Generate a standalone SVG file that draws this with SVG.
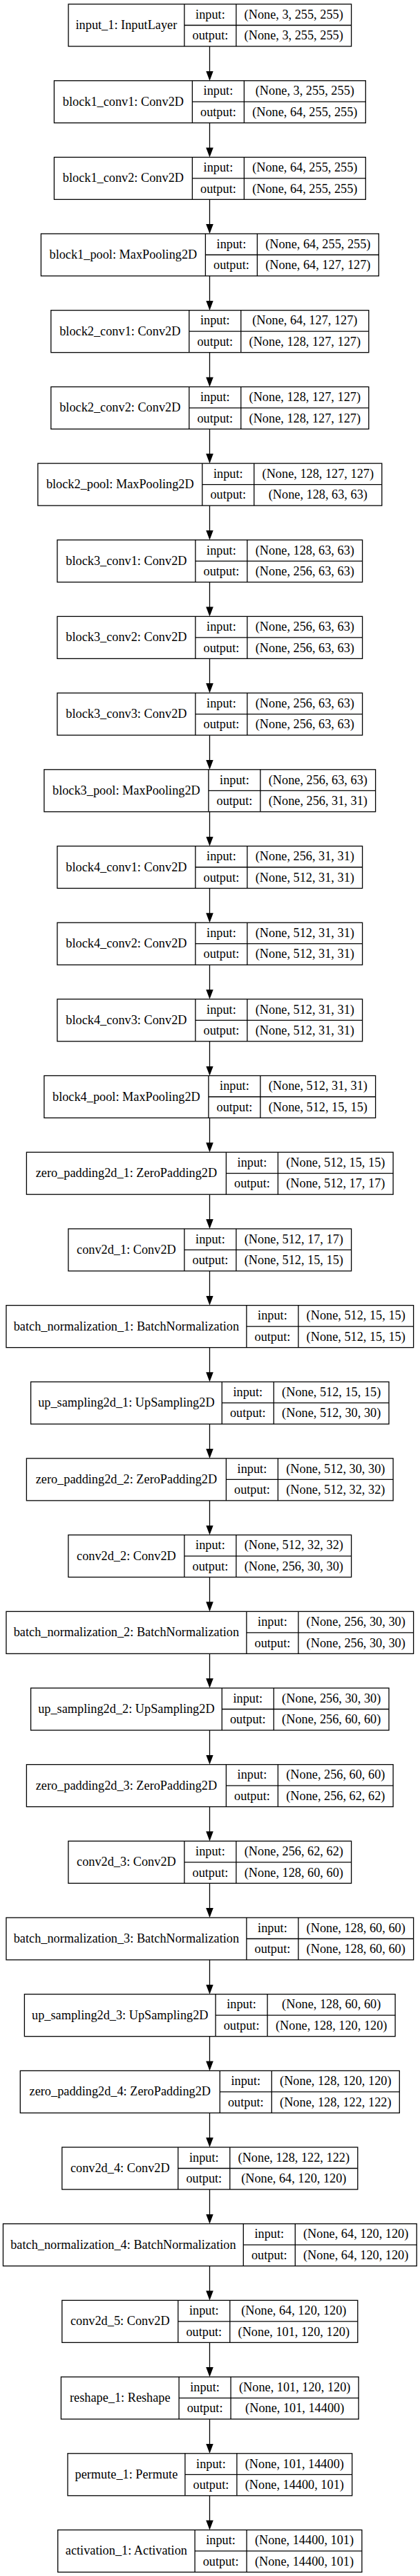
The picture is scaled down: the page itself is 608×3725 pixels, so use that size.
<svg xmlns="http://www.w3.org/2000/svg" width="608" height="3725" viewBox="0 0 608 3725">
<style>
.n rect{fill:#fff;stroke:#000;stroke-width:1.3}
.n path{fill:none;stroke:#000;stroke-width:1.3}
text{font-family:"Liberation Serif","Times New Roman",serif;font-size:18.3px;fill:#000;text-anchor:middle}
.e line{stroke:#000;stroke-width:1.3}
</style>
<defs>
<marker id="ah" viewBox="0 0 14 10.6" refX="1" refY="5.3" markerWidth="14" markerHeight="10.6" markerUnits="userSpaceOnUse" orient="auto"><path d="M0,0L14,5.3L0,10.6z" fill="#000"/></marker>
</defs>
<rect width="608" height="3725" fill="#fff"/>
<g class="e">
<line x1="303.5" y1="67" x2="303.5" y2="103.7" marker-end="url(#ah)"/>
<line x1="303.5" y1="177.7" x2="303.5" y2="214.4" marker-end="url(#ah)"/>
<line x1="303.5" y1="288.4" x2="303.5" y2="325" marker-end="url(#ah)"/>
<line x1="303.5" y1="399" x2="303.5" y2="435.7" marker-end="url(#ah)"/>
<line x1="303.5" y1="509.7" x2="303.5" y2="546.4" marker-end="url(#ah)"/>
<line x1="303.5" y1="620.4" x2="303.5" y2="657.1" marker-end="url(#ah)"/>
<line x1="303.5" y1="731.1" x2="303.5" y2="767.8" marker-end="url(#ah)"/>
<line x1="303.5" y1="841.8" x2="303.5" y2="878.4" marker-end="url(#ah)"/>
<line x1="303.5" y1="952.4" x2="303.5" y2="989.1" marker-end="url(#ah)"/>
<line x1="303.5" y1="1063.1" x2="303.5" y2="1099.8" marker-end="url(#ah)"/>
<line x1="303.5" y1="1173.8" x2="303.5" y2="1210.5" marker-end="url(#ah)"/>
<line x1="303.5" y1="1284.5" x2="303.5" y2="1321.2" marker-end="url(#ah)"/>
<line x1="303.5" y1="1395.2" x2="303.5" y2="1431.8" marker-end="url(#ah)"/>
<line x1="303.5" y1="1505.8" x2="303.5" y2="1542.5" marker-end="url(#ah)"/>
<line x1="303.5" y1="1616.5" x2="303.5" y2="1653.2" marker-end="url(#ah)"/>
<line x1="303.5" y1="1727.2" x2="303.5" y2="1763.9" marker-end="url(#ah)"/>
<line x1="303.5" y1="1837.9" x2="303.5" y2="1874.6" marker-end="url(#ah)"/>
<line x1="303.5" y1="1948.6" x2="303.5" y2="1985.2" marker-end="url(#ah)"/>
<line x1="303.5" y1="2059.2" x2="303.5" y2="2095.9" marker-end="url(#ah)"/>
<line x1="303.5" y1="2169.9" x2="303.5" y2="2206.6" marker-end="url(#ah)"/>
<line x1="303.5" y1="2280.6" x2="303.5" y2="2317.3" marker-end="url(#ah)"/>
<line x1="303.5" y1="2391.3" x2="303.5" y2="2428" marker-end="url(#ah)"/>
<line x1="303.5" y1="2502" x2="303.5" y2="2538.6" marker-end="url(#ah)"/>
<line x1="303.5" y1="2612.6" x2="303.5" y2="2649.3" marker-end="url(#ah)"/>
<line x1="303.5" y1="2723.3" x2="303.5" y2="2760" marker-end="url(#ah)"/>
<line x1="303.5" y1="2834" x2="303.5" y2="2870.7" marker-end="url(#ah)"/>
<line x1="303.5" y1="2944.7" x2="303.5" y2="2981.4" marker-end="url(#ah)"/>
<line x1="303.5" y1="3055.4" x2="303.5" y2="3092" marker-end="url(#ah)"/>
<line x1="303.5" y1="3166" x2="303.5" y2="3202.7" marker-end="url(#ah)"/>
<line x1="303.5" y1="3276.7" x2="303.5" y2="3313.4" marker-end="url(#ah)"/>
<line x1="303.5" y1="3387.4" x2="303.5" y2="3424.1" marker-end="url(#ah)"/>
<line x1="303.5" y1="3498.1" x2="303.5" y2="3534.8" marker-end="url(#ah)"/>
<line x1="303.5" y1="3608.8" x2="303.5" y2="3645.4" marker-end="url(#ah)"/>
</g>
<g id="n0" class="n" transform="translate(0 6)"><rect x="99" y="0" width="409.6" height="61"/><path d="M266.9 0V61M341.9 0V61M266.9 30.5H508.6"/><text x="182.9" y="36">input_1: InputLayer</text><text x="304.4" y="20.8">input:</text><text x="304.4" y="51.3">output:</text><text x="425.2" y="20.8">(None, 3, 255, 255)</text><text x="425.2" y="51.3">(None, 3, 255, 255)</text></g>
<g id="n1" class="n" transform="translate(0 116.7)"><rect x="78.4" y="0" width="450.9" height="61"/><path d="M278.4 0V61M353.4 0V61M278.4 30.5H529.2"/><text x="178.4" y="36">block1_conv1: Conv2D</text><text x="315.9" y="20.8">input:</text><text x="315.9" y="51.3">output:</text><text x="441.3" y="20.8">(None, 3, 255, 255)</text><text x="441.3" y="51.3">(None, 64, 255, 255)</text></g>
<g id="n2" class="n" transform="translate(0 227.4)"><rect x="78.4" y="0" width="450.9" height="61"/><path d="M278.4 0V61M353.4 0V61M278.4 30.5H529.2"/><text x="178.4" y="36">block1_conv2: Conv2D</text><text x="315.9" y="20.8">input:</text><text x="315.9" y="51.3">output:</text><text x="441.3" y="20.8">(None, 64, 255, 255)</text><text x="441.3" y="51.3">(None, 64, 255, 255)</text></g>
<g id="n3" class="n" transform="translate(0 338)"><rect x="59.4" y="0" width="488.9" height="61"/><path d="M297.4 0V61M372.4 0V61M297.4 30.5H548.2"/><text x="178.4" y="36">block1_pool: MaxPooling2D</text><text x="334.9" y="20.8">input:</text><text x="334.9" y="51.3">output:</text><text x="460.3" y="20.8">(None, 64, 255, 255)</text><text x="460.3" y="51.3">(None, 64, 127, 127)</text></g>
<g id="n4" class="n" transform="translate(0 448.7)"><rect x="73.8" y="0" width="460" height="61"/><path d="M273.8 0V61M348.8 0V61M273.8 30.5H533.8"/><text x="173.8" y="36">block2_conv1: Conv2D</text><text x="311.3" y="20.8">input:</text><text x="311.3" y="51.3">output:</text><text x="441.3" y="20.8">(None, 64, 127, 127)</text><text x="441.3" y="51.3">(None, 128, 127, 127)</text></g>
<g id="n5" class="n" transform="translate(0 559.4)"><rect x="73.8" y="0" width="460" height="61"/><path d="M273.8 0V61M348.8 0V61M273.8 30.5H533.8"/><text x="173.8" y="36">block2_conv2: Conv2D</text><text x="311.3" y="20.8">input:</text><text x="311.3" y="51.3">output:</text><text x="441.3" y="20.8">(None, 128, 127, 127)</text><text x="441.3" y="51.3">(None, 128, 127, 127)</text></g>
<g id="n6" class="n" transform="translate(0 670.1)"><rect x="54.8" y="0" width="498" height="61"/><path d="M292.8 0V61M367.8 0V61M292.8 30.5H552.8"/><text x="173.8" y="36">block2_pool: MaxPooling2D</text><text x="330.3" y="20.8">input:</text><text x="330.3" y="51.3">output:</text><text x="460.3" y="20.8">(None, 128, 127, 127)</text><text x="460.3" y="51.3">(None, 128, 63, 63)</text></g>
<g id="n7" class="n" transform="translate(0 780.8)"><rect x="82.9" y="0" width="441.7" height="61"/><path d="M282.9 0V61M357.9 0V61M282.9 30.5H524.7"/><text x="182.9" y="36">block3_conv1: Conv2D</text><text x="320.4" y="20.8">input:</text><text x="320.4" y="51.3">output:</text><text x="441.3" y="20.8">(None, 128, 63, 63)</text><text x="441.3" y="51.3">(None, 256, 63, 63)</text></g>
<g id="n8" class="n" transform="translate(0 891.4)"><rect x="82.9" y="0" width="441.7" height="61"/><path d="M282.9 0V61M357.9 0V61M282.9 30.5H524.7"/><text x="182.9" y="36">block3_conv2: Conv2D</text><text x="320.4" y="20.8">input:</text><text x="320.4" y="51.3">output:</text><text x="441.3" y="20.8">(None, 256, 63, 63)</text><text x="441.3" y="51.3">(None, 256, 63, 63)</text></g>
<g id="n9" class="n" transform="translate(0 1002.1)"><rect x="82.9" y="0" width="441.7" height="61"/><path d="M282.9 0V61M357.9 0V61M282.9 30.5H524.7"/><text x="182.9" y="36">block3_conv3: Conv2D</text><text x="320.4" y="20.8">input:</text><text x="320.4" y="51.3">output:</text><text x="441.3" y="20.8">(None, 256, 63, 63)</text><text x="441.3" y="51.3">(None, 256, 63, 63)</text></g>
<g id="n10" class="n" transform="translate(0 1112.8)"><rect x="63.9" y="0" width="479.7" height="61"/><path d="M301.9 0V61M376.9 0V61M301.9 30.5H543.7"/><text x="182.9" y="36">block3_pool: MaxPooling2D</text><text x="339.4" y="20.8">input:</text><text x="339.4" y="51.3">output:</text><text x="460.3" y="20.8">(None, 256, 63, 63)</text><text x="460.3" y="51.3">(None, 256, 31, 31)</text></g>
<g id="n11" class="n" transform="translate(0 1223.5)"><rect x="82.9" y="0" width="441.7" height="61"/><path d="M282.9 0V61M357.9 0V61M282.9 30.5H524.7"/><text x="182.9" y="36">block4_conv1: Conv2D</text><text x="320.4" y="20.8">input:</text><text x="320.4" y="51.3">output:</text><text x="441.3" y="20.8">(None, 256, 31, 31)</text><text x="441.3" y="51.3">(None, 512, 31, 31)</text></g>
<g id="n12" class="n" transform="translate(0 1334.2)"><rect x="82.9" y="0" width="441.7" height="61"/><path d="M282.9 0V61M357.9 0V61M282.9 30.5H524.7"/><text x="182.9" y="36">block4_conv2: Conv2D</text><text x="320.4" y="20.8">input:</text><text x="320.4" y="51.3">output:</text><text x="441.3" y="20.8">(None, 512, 31, 31)</text><text x="441.3" y="51.3">(None, 512, 31, 31)</text></g>
<g id="n13" class="n" transform="translate(0 1444.8)"><rect x="82.9" y="0" width="441.7" height="61"/><path d="M282.9 0V61M357.9 0V61M282.9 30.5H524.7"/><text x="182.9" y="36">block4_conv3: Conv2D</text><text x="320.4" y="20.8">input:</text><text x="320.4" y="51.3">output:</text><text x="441.3" y="20.8">(None, 512, 31, 31)</text><text x="441.3" y="51.3">(None, 512, 31, 31)</text></g>
<g id="n14" class="n" transform="translate(0 1555.5)"><rect x="63.9" y="0" width="479.7" height="61"/><path d="M301.9 0V61M376.9 0V61M301.9 30.5H543.7"/><text x="182.9" y="36">block4_pool: MaxPooling2D</text><text x="339.4" y="20.8">input:</text><text x="339.4" y="51.3">output:</text><text x="460.3" y="20.8">(None, 512, 31, 31)</text><text x="460.3" y="51.3">(None, 512, 15, 15)</text></g>
<g id="n15" class="n" transform="translate(0 1666.2)"><rect x="38.4" y="0" width="530.7" height="61"/><path d="M327.4 0V61M402.4 0V61M327.4 30.5H569.2"/><text x="182.9" y="36">zero_padding2d_1: ZeroPadding2D</text><text x="364.9" y="20.8">input:</text><text x="364.9" y="51.3">output:</text><text x="485.8" y="20.8">(None, 512, 15, 15)</text><text x="485.8" y="51.3">(None, 512, 17, 17)</text></g>
<g id="n16" class="n" transform="translate(0 1776.9)"><rect x="98.9" y="0" width="409.7" height="61"/><path d="M266.9 0V61M341.9 0V61M266.9 30.5H508.7"/><text x="182.9" y="36">conv2d_1: Conv2D</text><text x="304.4" y="20.8">input:</text><text x="304.4" y="51.3">output:</text><text x="425.3" y="20.8">(None, 512, 17, 17)</text><text x="425.3" y="51.3">(None, 512, 15, 15)</text></g>
<g id="n17" class="n" transform="translate(0 1887.6)"><rect x="9" y="0" width="589.6" height="61"/><path d="M356.9 0V61M431.9 0V61M356.9 30.5H598.6"/><text x="182.9" y="36">batch_normalization_1: BatchNormalization</text><text x="394.4" y="20.8">input:</text><text x="394.4" y="51.3">output:</text><text x="515.2" y="20.8">(None, 512, 15, 15)</text><text x="515.2" y="51.3">(None, 512, 15, 15)</text></g>
<g id="n18" class="n" transform="translate(0 1998.2)"><rect x="44.6" y="0" width="518.4" height="61"/><path d="M321.3 0V61M396.3 0V61M321.3 30.5H563"/><text x="182.9" y="36">up_sampling2d_1: UpSampling2D</text><text x="358.8" y="20.8">input:</text><text x="358.8" y="51.3">output:</text><text x="479.7" y="20.8">(None, 512, 15, 15)</text><text x="479.7" y="51.3">(None, 512, 30, 30)</text></g>
<g id="n19" class="n" transform="translate(0 2108.9)"><rect x="38.4" y="0" width="530.7" height="61"/><path d="M327.4 0V61M402.4 0V61M327.4 30.5H569.2"/><text x="182.9" y="36">zero_padding2d_2: ZeroPadding2D</text><text x="364.9" y="20.8">input:</text><text x="364.9" y="51.3">output:</text><text x="485.8" y="20.8">(None, 512, 30, 30)</text><text x="485.8" y="51.3">(None, 512, 32, 32)</text></g>
<g id="n20" class="n" transform="translate(0 2219.6)"><rect x="98.9" y="0" width="409.7" height="61"/><path d="M266.9 0V61M341.9 0V61M266.9 30.5H508.7"/><text x="182.9" y="36">conv2d_2: Conv2D</text><text x="304.4" y="20.8">input:</text><text x="304.4" y="51.3">output:</text><text x="425.3" y="20.8">(None, 512, 32, 32)</text><text x="425.3" y="51.3">(None, 256, 30, 30)</text></g>
<g id="n21" class="n" transform="translate(0 2330.3)"><rect x="9" y="0" width="589.6" height="61"/><path d="M356.9 0V61M431.9 0V61M356.9 30.5H598.6"/><text x="182.9" y="36">batch_normalization_2: BatchNormalization</text><text x="394.4" y="20.8">input:</text><text x="394.4" y="51.3">output:</text><text x="515.2" y="20.8">(None, 256, 30, 30)</text><text x="515.2" y="51.3">(None, 256, 30, 30)</text></g>
<g id="n22" class="n" transform="translate(0 2441)"><rect x="44.6" y="0" width="518.4" height="61"/><path d="M321.3 0V61M396.3 0V61M321.3 30.5H563"/><text x="182.9" y="36">up_sampling2d_2: UpSampling2D</text><text x="358.8" y="20.8">input:</text><text x="358.8" y="51.3">output:</text><text x="479.7" y="20.8">(None, 256, 30, 30)</text><text x="479.7" y="51.3">(None, 256, 60, 60)</text></g>
<g id="n23" class="n" transform="translate(0 2551.6)"><rect x="38.4" y="0" width="530.7" height="61"/><path d="M327.4 0V61M402.4 0V61M327.4 30.5H569.2"/><text x="182.9" y="36">zero_padding2d_3: ZeroPadding2D</text><text x="364.9" y="20.8">input:</text><text x="364.9" y="51.3">output:</text><text x="485.8" y="20.8">(None, 256, 60, 60)</text><text x="485.8" y="51.3">(None, 256, 62, 62)</text></g>
<g id="n24" class="n" transform="translate(0 2662.3)"><rect x="98.9" y="0" width="409.7" height="61"/><path d="M266.9 0V61M341.9 0V61M266.9 30.5H508.7"/><text x="182.9" y="36">conv2d_3: Conv2D</text><text x="304.4" y="20.8">input:</text><text x="304.4" y="51.3">output:</text><text x="425.3" y="20.8">(None, 256, 62, 62)</text><text x="425.3" y="51.3">(None, 128, 60, 60)</text></g>
<g id="n25" class="n" transform="translate(0 2773)"><rect x="9" y="0" width="589.6" height="61"/><path d="M356.9 0V61M431.9 0V61M356.9 30.5H598.6"/><text x="182.9" y="36">batch_normalization_3: BatchNormalization</text><text x="394.4" y="20.8">input:</text><text x="394.4" y="51.3">output:</text><text x="515.2" y="20.8">(None, 128, 60, 60)</text><text x="515.2" y="51.3">(None, 128, 60, 60)</text></g>
<g id="n26" class="n" transform="translate(0 2883.7)"><rect x="35.4" y="0" width="536.7" height="61"/><path d="M312.1 0V61M387.1 0V61M312.1 30.5H572.2"/><text x="173.8" y="36">up_sampling2d_3: UpSampling2D</text><text x="349.6" y="20.8">input:</text><text x="349.6" y="51.3">output:</text><text x="479.7" y="20.8">(None, 128, 60, 60)</text><text x="479.7" y="51.3">(None, 128, 120, 120)</text></g>
<g id="n27" class="n" transform="translate(0 2994.4)"><rect x="29.3" y="0" width="549" height="61"/><path d="M318.3 0V61M393.3 0V61M318.3 30.5H578.3"/><text x="173.8" y="36">zero_padding2d_4: ZeroPadding2D</text><text x="355.8" y="20.8">input:</text><text x="355.8" y="51.3">output:</text><text x="485.8" y="20.8">(None, 128, 120, 120)</text><text x="485.8" y="51.3">(None, 128, 122, 122)</text></g>
<g id="n28" class="n" transform="translate(0 3105)"><rect x="89.8" y="0" width="428" height="61"/><path d="M257.8 0V61M332.8 0V61M257.8 30.5H517.8"/><text x="173.8" y="36">conv2d_4: Conv2D</text><text x="295.3" y="20.8">input:</text><text x="295.3" y="51.3">output:</text><text x="425.3" y="20.8">(None, 128, 122, 122)</text><text x="425.3" y="51.3">(None, 64, 120, 120)</text></g>
<g id="n29" class="n" transform="translate(0 3215.7)"><rect x="4.5" y="0" width="598.7" height="61"/><path d="M352.3 0V61M427.3 0V61M352.3 30.5H603.2"/><text x="178.4" y="36">batch_normalization_4: BatchNormalization</text><text x="389.8" y="20.8">input:</text><text x="389.8" y="51.3">output:</text><text x="515.2" y="20.8">(None, 64, 120, 120)</text><text x="515.2" y="51.3">(None, 64, 120, 120)</text></g>
<g id="n30" class="n" transform="translate(0 3326.4)"><rect x="89.8" y="0" width="428" height="61"/><path d="M257.8 0V61M332.8 0V61M257.8 30.5H517.8"/><text x="173.8" y="36">conv2d_5: Conv2D</text><text x="295.3" y="20.8">input:</text><text x="295.3" y="51.3">output:</text><text x="425.3" y="20.8">(None, 64, 120, 120)</text><text x="425.3" y="51.3">(None, 101, 120, 120)</text></g>
<g id="n31" class="n" transform="translate(0 3437.1)"><rect x="88.4" y="0" width="430.7" height="61"/><path d="M259.1 0V61M334.1 0V61M259.1 30.5H519.2"/><text x="173.8" y="36">reshape_1: Reshape</text><text x="296.6" y="20.8">input:</text><text x="296.6" y="51.3">output:</text><text x="426.7" y="20.8">(None, 101, 120, 120)</text><text x="426.7" y="51.3">(None, 101, 14400)</text></g>
<g id="n32" class="n" transform="translate(0 3547.8)"><rect x="98" y="0" width="411.7" height="61"/><path d="M267.9 0V61M342.9 0V61M267.9 30.5H509.6"/><text x="182.9" y="36">permute_1: Permute</text><text x="305.4" y="20.8">input:</text><text x="305.4" y="51.3">output:</text><text x="426.3" y="20.8">(None, 101, 14400)</text><text x="426.3" y="51.3">(None, 14400, 101)</text></g>
<g id="n33" class="n" transform="translate(0 3658.4)"><rect x="83.7" y="0" width="440.2" height="61"/><path d="M282.1 0V61M357.1 0V61M282.1 30.5H523.9"/><text x="182.9" y="36">activation_1: Activation</text><text x="319.6" y="20.8">input:</text><text x="319.6" y="51.3">output:</text><text x="440.5" y="20.8">(None, 14400, 101)</text><text x="440.5" y="51.3">(None, 14400, 101)</text></g>
</svg>
